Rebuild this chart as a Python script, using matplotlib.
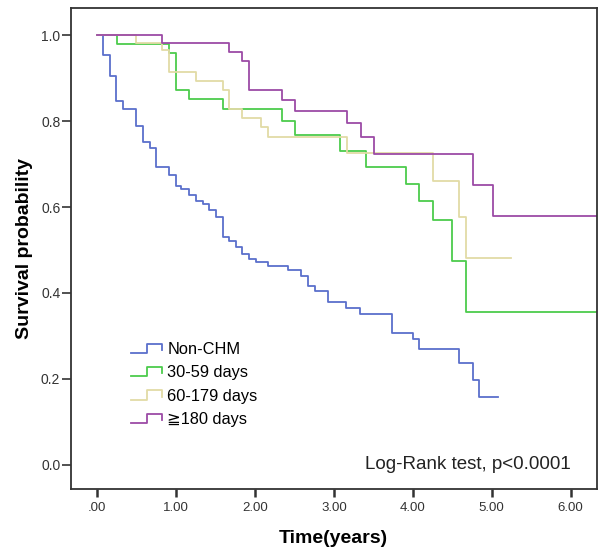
import numpy as np
import matplotlib
matplotlib.use("Agg")
import matplotlib.pyplot as plt
from matplotlib.legend_handler import HandlerBase
from matplotlib.lines import Line2D

plt.rcParams["font.family"] = ["Liberation Sans", "DejaVu Sans"]

# Kaplan-Meier step levels (time in years, survival)
non_chm_t = [0, 0.08, 0.165, 0.24, 0.325, 0.49, 0.58, 0.67, 0.75, 0.915, 1.0, 1.07,
             1.16, 1.25, 1.34, 1.42, 1.51, 1.59, 1.67, 1.76, 1.84, 1.93, 2.01, 2.17,
             2.42, 2.58, 2.67, 2.76, 2.92, 3.16, 3.33, 3.74, 4.0, 4.08, 4.59, 4.76,
             4.84, 5.08]
non_chm_s = [1.0, 0.953, 0.905, 0.846, 0.828, 0.789, 0.751, 0.737, 0.692, 0.674, 0.648,
             0.642, 0.627, 0.613, 0.607, 0.592, 0.576, 0.530, 0.522, 0.507, 0.490, 0.480,
             0.472, 0.463, 0.453, 0.440, 0.417, 0.405, 0.380, 0.366, 0.351, 0.307, 0.292,
             0.269, 0.237, 0.197, 0.157, 0.157]

d30_59_t = [0, 0.25, 0.915, 1.0, 1.17, 1.59, 2.34, 2.51, 3.08, 3.41, 3.91, 4.08, 4.25,
            4.50, 4.67, 6.5]
d30_59_s = [1.0, 0.979, 0.959, 0.873, 0.851, 0.828, 0.799, 0.768, 0.731, 0.694, 0.653,
            0.613, 0.569, 0.475, 0.355, 0.355]

d60_179_t = [0, 0.49, 0.83, 0.915, 1.25, 1.59, 1.67, 1.84, 2.08, 2.17, 3.17, 4.25, 4.59,
             4.67, 5.25]
d60_179_s = [1.0, 0.982, 0.965, 0.913, 0.893, 0.872, 0.829, 0.808, 0.785, 0.762, 0.725,
             0.660, 0.576, 0.481, 0.481]

d180_t = [0, 0.83, 1.67, 1.84, 1.92, 2.34, 2.51, 3.17, 3.34, 3.51, 4.76, 5.01, 6.5]
d180_s = [1.0, 0.982, 0.961, 0.939, 0.872, 0.849, 0.823, 0.795, 0.762, 0.724, 0.652,
          0.580, 0.580]

labels = ["Non-CHM", "30-59 days", "60-179 days", "\u2267180 days"]
colors = ["#5b6fcc", "#4ccc4c", "#e2dba6", "#9c4ba6"]
x_ticks = [0, 1, 2, 3, 4, 5, 6]
x_ticklabels = [".00", "1.00", "2.00", "3.00", "4.00", "5.00", "6.00"]
y_ticks = [0.0, 0.2, 0.4, 0.6, 0.8, 1.0]


class StepHandler(HandlerBase):
    # small step-shaped legend symbol like SPSS draws
    def create_artists(self, legend, orig_handle, xdescent, ydescent, width, height,
                       fontsize, trans):
        xs = np.array([0.0, 0.5, 0.5, 1.0, 1.0]) * width - xdescent
        ys = np.array([0.1, 0.1, 0.9, 0.9, 0.35]) * height - ydescent
        line = Line2D(xs, ys, color=orig_handle.get_color(),
                      lw=orig_handle.get_linewidth())
        line.set_transform(trans)
        return [line]


fig = plt.figure(figsize=(6.04, 5.51), dpi=100)
ax = fig.add_axes([0.117, 0.1125, 0.871, 0.873])

series = [(non_chm_t, non_chm_s), (d30_59_t, d30_59_s),
          (d60_179_t, d60_179_s), (d180_t, d180_s)]
handles = []
for (t, s), lab, col in zip(series, labels, colors):
    h, = ax.step(t, s, where="post", color=col, lw=1.3, label=lab)
    handles.append(h)

ax.set_xlim(-0.333, 6.33)
ax.set_ylim(-0.056, 1.063)
ax.set_xticks(x_ticks)
ax.set_xticklabels(x_ticklabels)
ax.set_yticks(y_ticks)
ax.set_yticklabels([f"{v:.1f}" for v in y_ticks])

for sp in ax.spines.values():
    sp.set_color("#333333")
    sp.set_linewidth(1.3)
ax.tick_params(axis="y", direction="out", length=6.5, width=1.2, pad=1,
               colors="#333333", labelsize=10)
ax.tick_params(axis="x", direction="out", length=6, width=1.8, pad=3,
               colors="#333333", labelsize=9.5)

ax.set_xlabel("Time(years)", fontsize=14, fontweight="bold", labelpad=12)
ax.set_ylabel("Survival probability", fontsize=14, fontweight="bold", labelpad=6)

ax.legend(handles=handles, labels=labels, handler_map={Line2D: StepHandler()},
          loc="upper left", bbox_to_anchor=(0.115, 0.305), frameon=False,
          fontsize=11.8, handlelength=1.9, handletextpad=0.3, labelspacing=0.5,
          borderpad=0, borderaxespad=0)

ax.text(0.95, 0.05, "Log-Rank test, p<0.0001", transform=ax.transAxes,
        ha="right", va="center", fontsize=13.5, color="#222222")

fig.savefig("out.png", dpi=100)
